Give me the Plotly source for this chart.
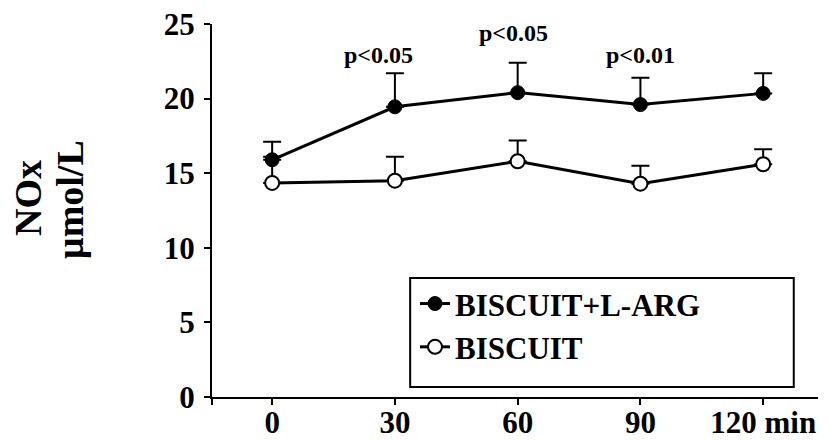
import plotly.graph_objects as go

# ---- data ----
times = [0, 30, 60, 90, 120]
tick_labels = ["0", "30", "60", "90", "120 min"]
larg_mean = [15.9, 19.45, 20.4, 19.6, 20.35]
larg_sd = [1.2, 2.25, 2.0, 1.8, 1.35]
bisc_mean = [14.35, 14.5, 15.8, 14.3, 15.6]
bisc_sd = [1.75, 1.6, 1.4, 1.2, 1.0]
sig_labels = ["p<0.05", "p<0.05", "p<0.01"]
sig_x = [26, 59, 90]
sig_y = [22.9, 24.4, 22.9]
y_title_lines = ["NOx", "µmol/L"]

FONT = "Liberation Serif"
fig = go.Figure()

fig.add_trace(go.Scatter(
    x=times, y=bisc_mean, name="BISCUIT", mode="lines+markers",
    line=dict(color="black", width=3),
    marker=dict(symbol="circle", size=14, color="white",
                line=dict(color="black", width=2)),
    error_y=dict(type="data", symmetric=False, array=bisc_sd,
                 arrayminus=[0] * len(bisc_sd), color="black",
                 thickness=2, width=9),
    legendrank=2,
))
fig.add_trace(go.Scatter(
    x=times, y=larg_mean, name="BISCUIT+L-ARG", mode="lines+markers",
    line=dict(color="black", width=3),
    marker=dict(symbol="circle", size=14, color="black",
                line=dict(color="black", width=1)),
    error_y=dict(type="data", symmetric=False, array=larg_sd,
                 arrayminus=[0] * len(larg_sd), color="black",
                 thickness=2, width=9),
    legendrank=1,
))

for t, xv, yv in zip(sig_labels, sig_x, sig_y):
    fig.add_annotation(x=xv, y=yv, text="<b>%s</b>" % t, showarrow=False,
                       xanchor="center", yanchor="middle",
                       font=dict(family=FONT, size=24, color="black"))

# y-axis title, two stacked rotated lines
for txt, px, py in zip(y_title_lines, [-0.3036, -0.234], [0.5335, 0.528]):
    fig.add_annotation(xref="paper", yref="paper", x=px, y=py,
                       text="<b>%s</b>" % txt, textangle=-90,
                       showarrow=False, xanchor="center", yanchor="middle",
                       font=dict(family=FONT, size=38, color="black"))

# legend frame
fig.add_shape(type="rect", xref="paper", yref="paper",
              x0=0.327, x1=0.960, y0=0.027, y1=0.319,
              line=dict(color="black", width=2), fillcolor="white", layer="below")

x_min, x_max = -14.7, 133.4
# page body has an 8px margin: size and margins compensate for it
fig.update_layout(
    width=821, height=432,
    margin=dict(l=204, r=11, t=16, b=43),
    paper_bgcolor="white", plot_bgcolor="white",
    showlegend=True,
    legend=dict(x=0.335, y=0.322, xanchor="left", yanchor="top",
                bgcolor="rgba(0,0,0,0)", borderwidth=0,
                font=dict(family=FONT, size=31, color="black"),
                itemwidth=30),
    xaxis=dict(range=[x_min, x_max], tickvals=[x_min] + times,
               ticktext=[""] + ["<b>%s</b>" % s for s in tick_labels],
               showgrid=False, zeroline=False, showline=True,
               linecolor="black", linewidth=2, ticks="outside",
               ticklen=6, tickwidth=2, tickcolor="black", automargin=False,
               ticklabelstandoff=-9, ticklabeloverflow="allow",
               tickfont=dict(family=FONT, size=31, color="black")),
    yaxis=dict(range=[0, 25], tickvals=[0, 5, 10, 15, 20, 25],
               ticktext=["<b>%d</b>" % v for v in [0, 5, 10, 15, 20, 25]],
               showgrid=False, zeroline=False, showline=True,
               linecolor="black", linewidth=2, ticks="outside",
               ticklen=6, tickwidth=2, tickcolor="black", automargin=False,
               ticklabelstandoff=3, ticklabeloverflow="allow",
               tickfont=dict(family=FONT, size=31, color="black")),
)
for tr in fig.data:
    tr.name = "<b>%s</b>" % tr.name

fig.write_html("out.html")
